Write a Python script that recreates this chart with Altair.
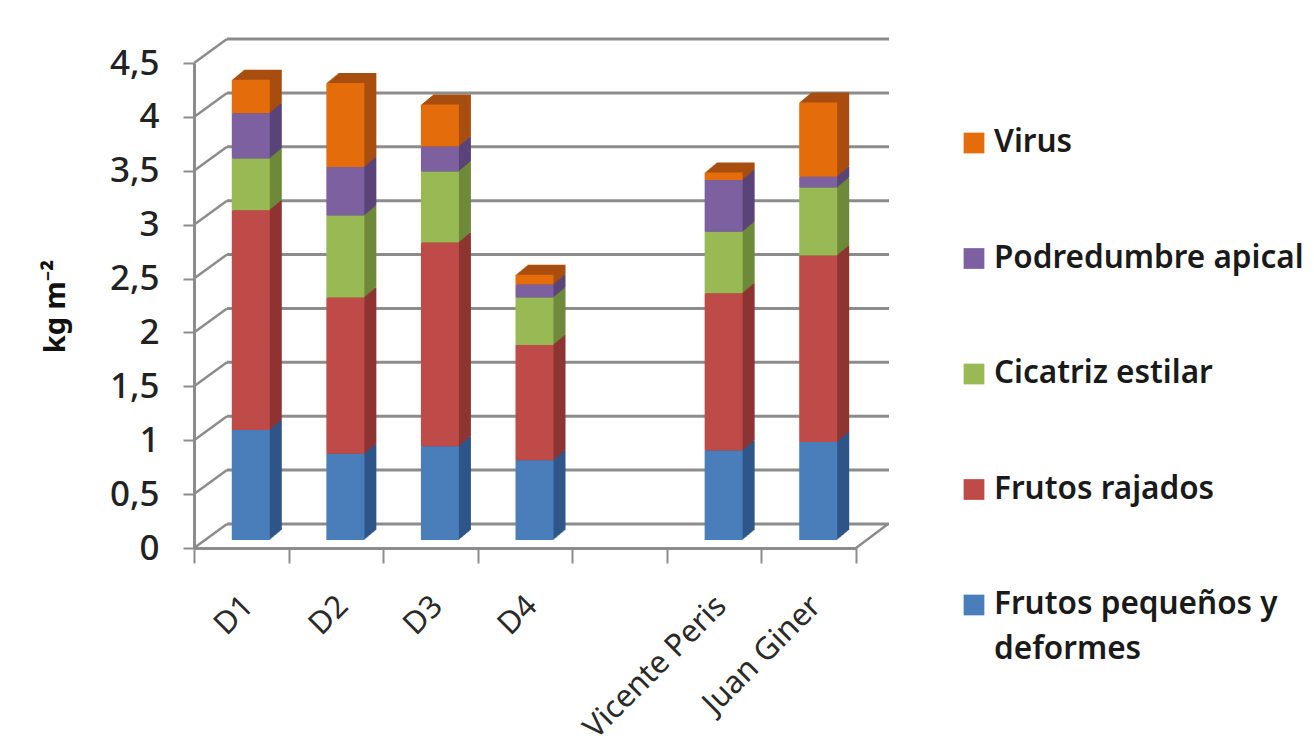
import altair as alt
import pandas as pd

categories = ["D1", "D2", "D3", "D4", " ", "Vicente Peris", "Juan Giner"]
bar_categories = ["D1", "D2", "D3", "D4", "Vicente Peris", "Juan Giner"]
series_names = ["Frutos pequeños y deformes", "Frutos rajados", "Cicatriz estilar", "Podredumbre apical", "Virus"]
pequenos = [1.02, 0.80, 0.87, 0.74, 0.83, 0.91]
rajados = [2.04, 1.45, 1.89, 1.07, 1.46, 1.73]
cicatriz = [0.48, 0.76, 0.66, 0.44, 0.57, 0.63]
podredumbre = [0.42, 0.45, 0.23, 0.12, 0.48, 0.10]
virus = [0.31, 0.78, 0.39, 0.09, 0.07, 0.69]
front_colors = ["#4A7EBB", "#BE4B48", "#98B954", "#7D60A0", "#E46C0A"]
side_colors = ["#2F5688", "#8E3432", "#6E8A3A", "#5A4478", "#A84E10"]
grid_values = [0, 0.5, 1, 1.5, 2, 2.5, 3, 3.5, 4, 4.5]
legend_lines = [["Virus"], ["Podredumbre apical"], ["Cicatriz estilar"], ["Frutos rajados"],
                ["Frutos pequeños y", "deformes"]]
legend_colors = ["#E46C0A", "#7D60A0", "#98B954", "#BE4B48", "#4A7EBB"]

FONT = "Noto Sans"
GRID = "#8C8C8C"
W, H = 662, 485
PX = 4.5 / H
DEPTH_X, DEPTH_Y = 33, 24

rows = []
for order, (name, vals) in enumerate(zip(series_names, [pequenos, rajados, cicatriz, podredumbre, virus])):
    for cat, v in zip(bar_categories, vals):
        rows.append({"cat": cat, "serie": name, "ord": order, "v": v})
df = pd.DataFrame(rows)

gdf = pd.DataFrame({"v": grid_values, "v2": [g + DEPTH_Y * PX for g in grid_values]})
x_scale = alt.Scale(domain=categories, paddingInner=0, paddingOuter=0)
y_scale = alt.Scale(domain=[0, 4.5], nice=False)

axis_x = alt.Axis(title=None, labelAngle=-45, labelAlign="right", labelBaseline="middle", labelFont=FONT,
                  labelFontSize=31, labelColor="#2a2a2a", labelPadding=38, labelOffset=7, tickSize=15, tickWidth=2,
                  tickColor=GRID, domainColor=GRID, domainWidth=3, tickBand="extent", grid=False, labelOverlap=False,
                  labelLimit=400)
axis_y = alt.Axis(title="kg m⁻²", values=grid_values, labelExpr="replace(toString(datum.value), '.', ',')",
                  labelFont=FONT, labelFontSize=35, labelFontWeight=500, labelColor="#222222", labelPadding=24,
                  tickSize=11, tickWidth=2, tickColor=GRID, domainColor=GRID, domainWidth=3, grid=False,
                  titleFont=FONT, titleFontSize=29, titleFontWeight="bold", titleColor="#111111",
                  titleX=-124, titleY=243, titleAngle=-90, labelOverlap=False)

back = alt.Chart(gdf).mark_rule(color=GRID, strokeWidth=3, yOffset=-DEPTH_Y).encode(
    x=alt.value(DEPTH_X), x2=alt.value(W + DEPTH_X),
    y=alt.Y("v:Q", scale=y_scale, axis=axis_y))
slant = alt.Chart(gdf).mark_rule(color=GRID, strokeWidth=2.5).encode(
    x=alt.value(0), x2=alt.value(DEPTH_X),
    y=alt.Y("v:Q", scale=y_scale), y2="v2:Q")
floor = alt.Chart(gdf[gdf.v == 0]).mark_rule(color=GRID, strokeWidth=2.5).encode(
    x=alt.value(W), x2=alt.value(W + DEPTH_X - 1),
    y=alt.Y("v:Q", scale=y_scale), y2="v2:Q")


def bars(dx, dy, colors):
    return alt.Chart(df).mark_bar(size=38, xOffset=9.5 + dx, yOffset=-8 - dy, strokeWidth=0).encode(
        x=alt.X("cat:N", scale=x_scale, sort=categories, axis=axis_x),
        y=alt.Y("v:Q", stack="zero", scale=y_scale),
        color=alt.Color("serie:N", scale=alt.Scale(domain=series_names, range=colors), legend=None),
        order=alt.Order("ord:Q"))


layers = [back, slant, floor]
n = 12
for i in range(n, 0, -1):
    layers.append(bars(i, i * 10 / n, side_colors))
layers.append(bars(0, 0, front_colors))

leg_x0, leg_y0, leg_dy, line_h = 781, 143 - 63, 115.5, 45
for k, (lines, col) in enumerate(zip(legend_lines, legend_colors)):
    y = leg_y0 + k * leg_dy
    layers.append(alt.Chart(pd.DataFrame({"a": [1]})).mark_square(size=430, color=col, opacity=1).encode(
        x=alt.value(leg_x0 - 1), y=alt.value(y)))
    for j, line in enumerate(lines):
        layers.append(alt.Chart(pd.DataFrame({"t": [line]})).mark_text(
            align="left", baseline="middle", font=FONT, fontSize=31.5, fontWeight=600, color="#1a1a1a").encode(
            x=alt.value(leg_x0 + 19), y=alt.value(y + j * line_h), text="t:N"))

chart = alt.layer(*layers).properties(
    width=W, height=H,
    autosize=alt.AutoSizeParams(type="none"),
    padding={"left": 186, "top": 55, "right": 1298 - 186 - W, "bottom": 734 - 55 - H},
    background="white",
).configure_view(stroke=None).resolve_scale(color="independent")

chart.save("out.html", embed_options={"renderer": "svg", "actions": False})
